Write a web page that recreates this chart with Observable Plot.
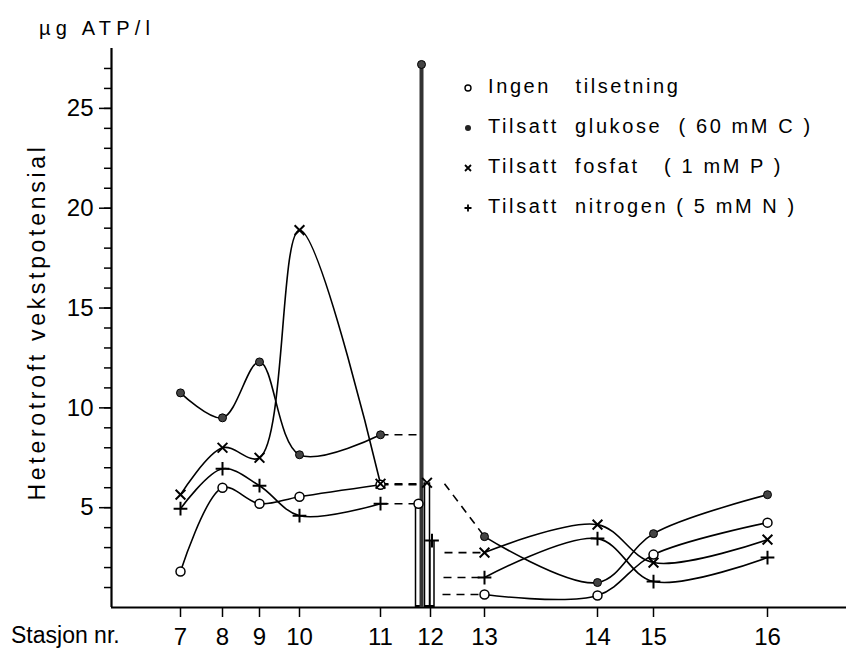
<!DOCTYPE html>
<html><head><meta charset="utf-8">
<script src="https://cdn.jsdelivr.net/npm/d3@7"></script>
<script src="https://cdn.jsdelivr.net/npm/@observablehq/plot@0.6"></script>
<style>
body{margin:0;background:#fff;}
#wrap{position:relative;width:846px;height:650px;font-family:"Liberation Sans",sans-serif;color:#000;}
#wrap svg{position:absolute;left:0;top:0;}
.unit{position:absolute;left:39px;top:17px;font-size:20px;letter-spacing:5.2px;white-space:nowrap;}
.ylab{position:absolute;left:37px;top:322px;transform:translate(-50%,-50%) rotate(-90deg);font-size:23px;letter-spacing:3.7px;white-space:nowrap;}
.xlab{position:absolute;left:11px;top:622px;font-size:23px;letter-spacing:0px;white-space:nowrap;}
#legend{position:absolute;left:462px;top:75px;font-size:20px;letter-spacing:2.6px;}
#legend .row{height:40px;display:flex;align-items:flex-start;white-space:pre;}
#legend svg{position:static;margin-right:14px;margin-top:7px;}
</style></head><body>
<div id="wrap"></div>
<script>
// Stations and their positions along the x axis (distance units)
const stations = [7, 8, 9, 10, 11, 12, 13, 14, 15, 16];
const stationPos = [69, 111, 148, 188, 269, 319, 373, 486, 542, 656];

const seriesNames = ["Ingen   tilsetning", "Tilsatt  glukose  ( 60 mM C )", "Tilsatt  fosfat   ( 1 mM P )", "Tilsatt  nitrogen ( 5 mM N )"];
const ingen    = [1.8, 6.0, 5.2, 5.55, 6.15, 5.2, 0.65, 0.6, 2.65, 4.25];
const glukose  = [10.75, 9.5, 12.3, 7.65, 8.65, 27.2, 3.55, 1.25, 3.7, 5.65];
const fosfat   = [5.65, 8.0, 7.5, 18.9, 6.2, 6.25, 2.75, 4.15, 2.25, 3.4];
const nitrogen = [4.95, 6.95, 6.1, 4.6, 5.2, 3.35, 1.5, 3.45, 1.3, 2.5];

// Station 12 is drawn as thin bars, slightly offset from each other
const bar12Pos = [307, 310, 315.5, 320.5];
const bar12Width = [6, 4, 5, 4];
// dashed connections 11 -> 12 and 12 -> 13
const dashLeftEnd = [307, 305.5, 312, 307];
const dashRightStart = [331, 333, 333, 332];
const dashRightStartValue = [0.65, 6.2, 2.75, 1.5];

const yMajorTicks = [5, 10, 15, 20, 25];
const yMinorTicks = [1,2,3,4,5,6,7,8,9,10,11,12,13,14,15,16,17,18,19,20,21,22,23,24,25,26,27];

const allSeries = [ingen, glukose, fosfat, nitrogen];
const keys = ["ingen", "glukose", "fosfat", "nitrogen"];

const lineRows = [], dotRows = [], barRows = [], dashRows = [];
allSeries.forEach((vals, s) => {
  vals.forEach((v, i) => {
    if (i === 5) {
      barRows.push({key: keys[s], pos: bar12Pos[s], value: v, w: bar12Width[s]});
      dotRows.push({key: keys[s], pos: bar12Pos[s], value: v});
    } else {
      lineRows.push({key: keys[s], seg: keys[s] + (i < 5 ? "L" : "R"), pos: stationPos[i], value: v});
      dotRows.push({key: keys[s], pos: stationPos[i], value: v});
    }
  });
  dashRows.push({x1: stationPos[4], y1: vals[4], x2: dashLeftEnd[s], y2: vals[4]});
  dashRows.push({x1: dashRightStart[s], y1: dashRightStartValue[s], x2: stationPos[6], y2: vals[6]});
});

const tickFont = "Liberation Sans, sans-serif";
const plot = Plot.plot({
  width: 846, height: 650,
  marginLeft: 111, marginRight: 0, marginTop: 48, marginBottom: 43,
  style: {background: "#fff", fontFamily: tickFont, color: "#000"},
  x: {type: "linear", domain: [0, 735]},
  y: {domain: [0, 28]},
  marks: [
    Plot.axisY({ticks: yMinorTicks, tickSize: 7, tickFormat: () => "", label: null, strokeWidth: 1.5}),
    Plot.axisY({ticks: yMajorTicks, tickSize: 12, tickPadding: 6, fontSize: 24, label: null, strokeWidth: 1.5}),
    Plot.axisX({ticks: stationPos, tickFormat: (d) => stations[stationPos.indexOf(d)], tickSize: 10, tickPadding: 10, fontSize: 24, label: null, strokeWidth: 1.5}),
    Plot.ruleY([0], {strokeWidth: 2.2}),
    Plot.ruleX([0], {strokeWidth: 2.2}),
    Plot.line(lineRows, {x: "pos", y: "value", z: "seg", curve: "catmull-rom", stroke: "#000", strokeWidth: 1.6}),
    Plot.link(dashRows, {x1: "x1", y1: "y1", x2: "x2", y2: "y2", stroke: "#000", strokeWidth: 1.6, strokeDasharray: "8,6"}),
    Plot.ruleX(barRows.filter(d => d.key !== "glukose"), {x: "pos", y1: 0, y2: "value", stroke: "#000", strokeWidth: d => d.w + 1.5}),
    Plot.ruleX(barRows.filter(d => d.key !== "glukose"), {x: "pos", y1: 0.1, y2: "value", stroke: "#fff", strokeWidth: d => d.w - 1.5}),
    Plot.ruleX(barRows.filter(d => d.key === "glukose"), {x: "pos", y1: 0, y2: "value", stroke: "#333", strokeWidth: d => d.w}),
    Plot.dot(dotRows.filter(d => d.key === "ingen"), {x: "pos", y: "value", r: 4.5, fill: "#fff", stroke: "#000", strokeWidth: 1.5}),
    Plot.dot(dotRows.filter(d => d.key === "glukose"), {x: "pos", y: "value", r: 4, fill: "#444", stroke: "#000", strokeWidth: 1}),
    Plot.dot(dotRows.filter(d => d.key === "fosfat"), {x: "pos", y: "value", r: 4.5, symbol: "times", stroke: "#000", strokeWidth: 2}),
    Plot.dot(dotRows.filter(d => d.key === "nitrogen"), {x: "pos", y: "value", r: 4.5, symbol: "plus", stroke: "#000", strokeWidth: 2})
  ]
});
const wrap = document.getElementById("wrap");
wrap.appendChild(plot);

const addDiv = (cls, txt) => { const d = document.createElement("div"); d.className = cls; d.textContent = txt; wrap.appendChild(d); return d; };
addDiv("unit", "µg ATP/l");
addDiv("ylab", "Heterotroft vekstpotensial");
addDiv("xlab", "Stasjon nr.");

// legend
const legend = document.createElement("div");
legend.id = "legend";
const symbolSvgs = [
  '<circle cx="6" cy="6" r="3" fill="#fff" stroke="#000" stroke-width="1.4"/>',
  '<circle cx="6" cy="6" r="3" fill="#222"/>',
  '<path d="M3 3L9 9M9 3L3 9" stroke="#000" stroke-width="1.8"/>',
  '<path d="M6 2.5V9.5M2.5 6H9.5" stroke="#000" stroke-width="1.8"/>'
];
seriesNames.forEach((name, i) => {
  const row = document.createElement("div");
  row.className = "row";
  row.innerHTML = '<svg width="12" height="12" viewBox="0 0 12 12">' + symbolSvgs[i] + '</svg><span>' + name + '</span>';
  legend.appendChild(row);
});
wrap.appendChild(legend);
</script>
</body></html>
